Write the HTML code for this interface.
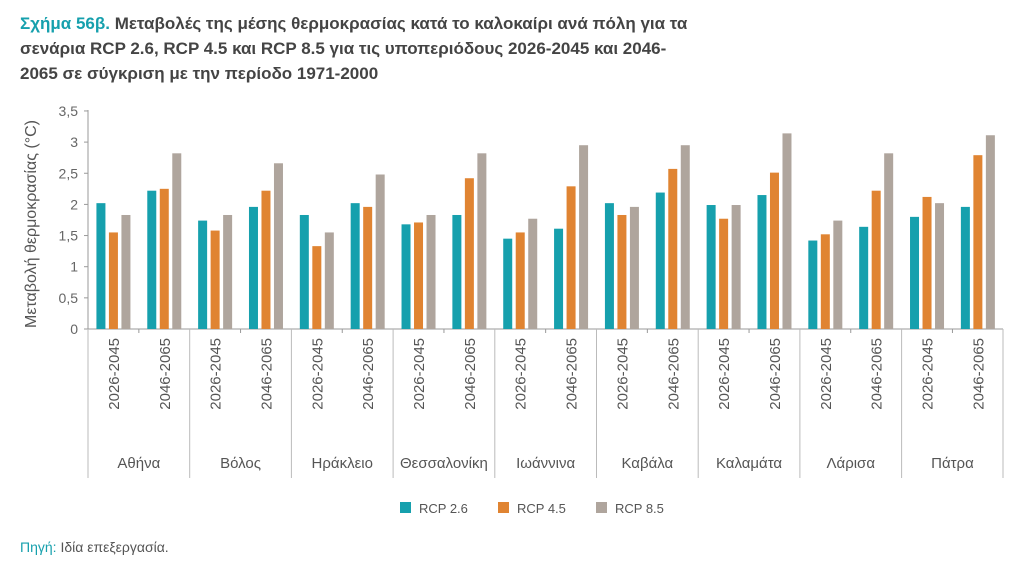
<!DOCTYPE html>
<html><head><meta charset="utf-8"><style>
body{margin:0;background:#fff;width:1024px;height:576px;overflow:hidden;font-family:"Liberation Sans","DejaVu Sans",sans-serif}
.t{position:absolute;left:20px;top:11px;font-size:17px;font-weight:bold;color:#444;line-height:25px;width:1000px}
.t span{color:#16a0ad}
</style></head><body>
<div class="t"><span>Σχήμα 56β.</span> Μεταβολές της μέσης θερμοκρασίας κατά το καλοκαίρι ανά πόλη για τα<br>σενάρια RCP 2.6, RCP 4.5 και RCP 8.5 για τις υποπεριόδους 2026-2045 και 2046-<br>2065 σε σύγκριση με την περίοδο 1971-2000</div>
<svg width="1024" height="576" style="position:absolute;left:0;top:0" font-family="Liberation Sans, DejaVu Sans, sans-serif">
<g id="c"></g>
</svg>
<script>
const d=[["Αθήνα",[2.02,1.55,1.83],[2.22,2.25,2.82]],["Βόλος",[1.74,1.58,1.83],[1.96,2.22,2.66]],["Ηράκλειο",[1.83,1.33,1.55],[2.02,1.96,2.48]],["Θεσσαλονίκη",[1.68,1.71,1.83],[1.83,2.42,2.82]],["Ιωάννινα",[1.45,1.55,1.77],[1.61,2.29,2.95]],["Καβάλα",[2.02,1.83,1.96],[2.19,2.57,2.95]],["Καλαμάτα",[1.99,1.77,1.99],[2.15,2.51,3.14]],["Λάρισα",[1.42,1.52,1.74],[1.64,2.22,2.82]],["Πάτρα",[1.80,2.12,2.02],[1.96,2.79,3.11]]];
const col=["#16a0ad","#e08432","#afa59d"];
const y0=329,k=62.3,x0=88,gw=101.7;let s="";
for(let i=0;i<=7;i++){const v=i*0.5,y=y0-v*k;s+=`<text x="78" y="${y+5}" text-anchor="end" font-size="14" fill="#666">${String(v).replace('.',',')}</text><line x1="84" x2="88" y1="${y}" y2="${y}" stroke="#999"/>`;}
s+=`<line x1="88" x2="88" y1="110" y2="329" stroke="#999"/><line x1="88" x2="1003" y1="329" y2="329" stroke="#999"/>`;
s+=`<text transform="translate(36,224) rotate(-90)" text-anchor="middle" font-size="16" fill="#555">Μεταβολή θερμοκρασίας (°C)</text>`;
d.forEach((c,i)=>{const gx=x0+i*gw;
s+=`<line x1="${gx}" x2="${gx}" y1="329" y2="478" stroke="#bbb"/>`;
s+=`<line x1="${gx+gw/2}" x2="${gx+gw/2}" y1="329" y2="333" stroke="#999"/>`;
[c[1],c[2]].forEach((vals,j)=>{const cx=gx+gw*(j?0.75:0.25);
vals.forEach((v,m)=>{const bx=cx+(m-1)*12.5-4.5;s+=`<rect x="${bx}" y="${y0-v*k}" width="9" height="${v*k}" fill="${col[m]}"/>`;});
s+=`<text transform="translate(${cx+5.5},338) rotate(-90)" text-anchor="end" font-size="15" fill="#555">${j?"2046-2065":"2026-2045"}</text>`;});
s+=`<text x="${gx+gw/2}" y="468" text-anchor="middle" font-size="15" fill="#555">${c[0]}</text>`;});
s+=`<line x1="1003" x2="1003" y1="329" y2="478" stroke="#bbb"/>`;
["RCP 2.6","RCP 4.5","RCP 8.5"].forEach((t,m)=>{const lx=400+m*98;s+=`<rect x="${lx}" y="502" width="11" height="11" fill="${col[m]}"/><text x="${lx+19}" y="513" font-size="13" fill="#555">${t}</text>`;});
s+=`<text x="20" y="552" font-size="14" fill="#16a0ad">Πηγή: <tspan fill="#555">Ιδία επεξεργασία.</tspan></text>`;
document.getElementById("c").innerHTML=s;
</script>
</body></html>
